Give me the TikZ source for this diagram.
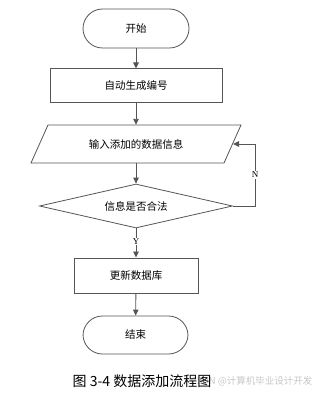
\documentclass[tikz,border=0pt]{standalone}
\usepackage{fontspec}
\newfontfamily\cjk{Noto Sans CJK SC}
\setmainfont{Liberation Serif}
\usetikzlibrary{shapes.geometric,arrows.meta}
\definecolor{ln}{RGB}{85,85,85}
\begin{document}
\begin{tikzpicture}[x=1pt,y=1pt,
  every node/.style={font=\cjk\fontsize{10.5}{12}\selectfont},
  term/.style={draw=ln,line width=0.8pt,rectangle,rounded corners=19.5pt,minimum width=106pt,minimum height=39pt,inner sep=0pt},
  procbox/.style={draw=ln,line width=1pt,rectangle,inner sep=0pt},
  decide/.style={draw=ln,line width=0.8pt,diamond,aspect=4.4,minimum width=193pt,minimum height=44pt,inner sep=0pt},
  conn/.style={draw=ln,line width=0.9pt,-{Triangle[width=5.5pt,length=6pt]}},
  lbl/.style={font=\fontsize{9}{10}\selectfont,fill=white,inner sep=1pt}
]
\useasboundingbox (0,0) rectangle (316,-393);
\node[term] (start) at (136,-28.5) {开始};
\node[procbox,minimum width=172pt,minimum height=34pt] (gen) at (136,-86) {自动生成编号};
\draw[ln,line width=0.8pt] (31,-163) -- (48,-125) -- (241,-125) -- (224,-163) -- cycle;
\node[minimum width=176pt,minimum height=38pt,inner sep=0pt] (inp) at (136,-144) {输入添加的数据信息};
\coordinate (inpR) at (233,-144);
\node[decide] (chk) at (136,-206) {信息是否合法};
\node[procbox,minimum width=124pt,minimum height=35pt] (upd) at (136,-275.5) {更新数据库};
\node[term,minimum width=105pt,minimum height=38pt] (end) at (135.5,-335) {结束};
\coordinate (loopA) at (255,-206);
\coordinate (loopB) at (255,-144);

\draw[conn] (start) -- (gen);
\draw[conn] (gen) -- (inp);
\draw[conn] (inp) -- (chk);
\draw[conn] (chk.south) -- node[lbl,pos=0.45]{Y} (upd);
\draw[conn] (upd) -- (end);
\draw[conn] (chk.east) -- (loopA) -- node[lbl,pos=0.5]{N} (loopB) -- (inpR);

\node[anchor=east,text=black!22,font=\cjk\fontsize{9.5}{11}\selectfont] (wm) at (316,-381) {CSDN @计算机毕业设计开发};
\node[font=\cjk\fontsize{14}{16}\selectfont] (cap) at (142,-381) {图 3-4 数据添加流程图};
\end{tikzpicture}
\end{document}
